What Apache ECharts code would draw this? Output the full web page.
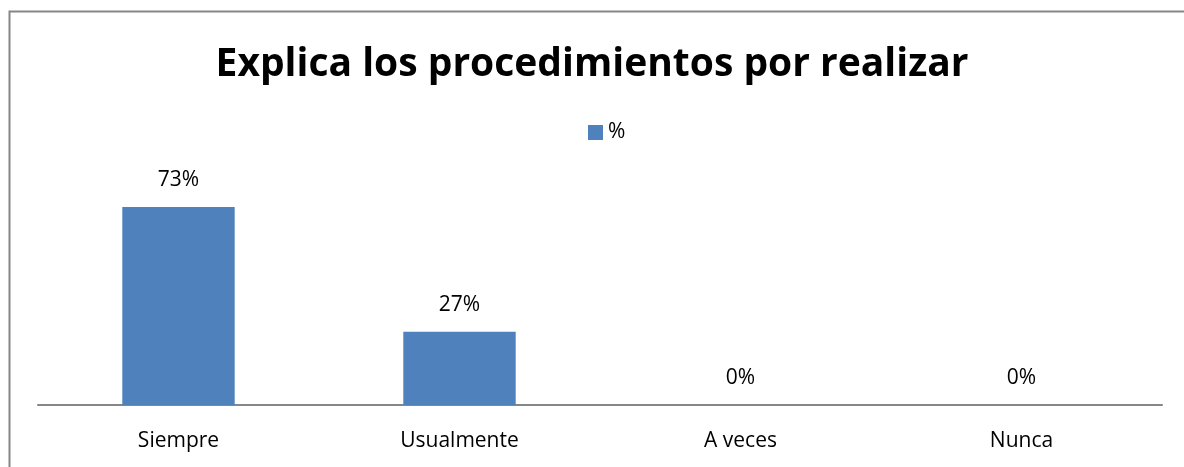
<!DOCTYPE html>
<html>
<head>
    <meta charset="utf-8">
    <title>ECharts</title>
    <script src="https://cdn.jsdelivr.net/npm/echarts@6/dist/echarts.min.js"></script>
</head>
<body style="margin:0;">
<div id="main" style="width: 1184px;height:467px;"></div>
<script type="text/javascript">
    var titleText = 'Explica los procedimientos por realizar';
    var seriesName = '%';
    var categories = ['Siempre', 'Usualmente', 'A veces', 'Nunca'];
    var values = [0.73, 0.27, 0, 0];

    var myChart = echarts.init(document.getElementById('main'));
    var font = "'Open Sans', 'Noto Sans', sans-serif";

    var option = {
        backgroundColor: '#fff',
        animation: false,
        title: {
            text: titleText,
            left: 'center',
            top: 40,
            textStyle: {
                fontFamily: font,
                fontSize: 39,
                fontWeight: 'bold',
                color: '#000'
            }
        },
        legend: {
            data: [seriesName],
            top: 117,
            left: 583,
            icon: 'rect',
            itemWidth: 15,
            itemHeight: 15,
            itemGap: 6,
            textStyle: {fontFamily: font, fontSize: 21, color: '#000'}
        },
        grid: {
            left: 38,
            right: 22,
            top: 188,
            bottom: 62
        },
        xAxis: {
            type: 'category',
            data: categories,
            axisTick: {show: false},
            axisLine: {lineStyle: {color: '#868686', width: 2}},
            axisLabel: {fontFamily: font, fontSize: 21, color: '#000', margin: 26}
        },
        yAxis: {
            type: 'value',
            min: 0,
            max: 0.8,
            show: false,
            splitLine: {show: false}
        },
        graphic: [{
            type: 'rect',
            shape: {x: 9.5, y: 11.5, width: 1200, height: 500},
            style: {fill: 'none', stroke: '#868686', lineWidth: 2},
            silent: true
        }],
        series: [{
            name: seriesName,
            type: 'bar',
            data: values,
            barCategoryGap: '60%',
            itemStyle: {color: '#4f81bd'},
            label: {
                show: true,
                position: 'top',
                distance: 16,
                fontFamily: font,
                fontSize: 21,
                color: '#000',
                formatter: function (p) {
                    return Math.round(p.value * 100) + '%';
                }
            }
        }]
    };

    myChart.setOption(option);
</script>
</body>
</html>
